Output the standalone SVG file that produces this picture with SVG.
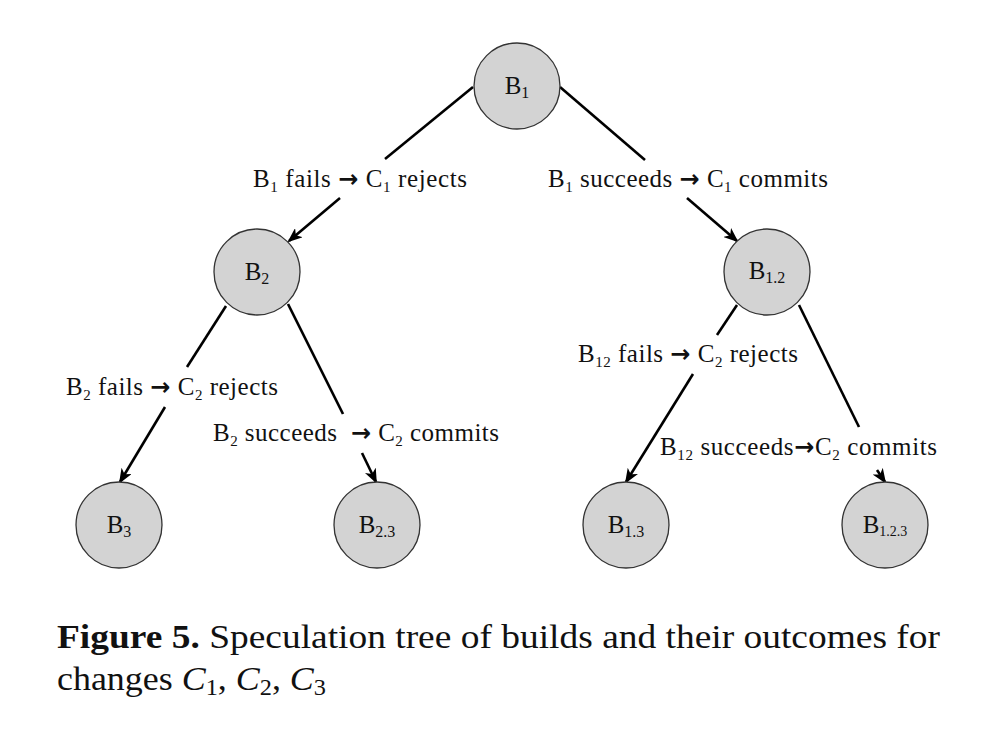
<svg xmlns="http://www.w3.org/2000/svg" width="1002" height="730" viewBox="0 0 1002 730">
<style>
.node{fill:#d3d3d3;stroke:#333;stroke-width:1.3}
.nl{font-family:"Liberation Serif","Times New Roman",serif;font-size:25px;fill:#111;text-anchor:middle}
.el{font-family:"Liberation Serif","Times New Roman",serif;font-size:25px;fill:#111}
.ar{font-family:"DejaVu Sans",sans-serif;font-weight:bold;font-size:24px}
.edge{stroke:#000;stroke-width:2.6;fill:none}
.cap{font-family:"Liberation Serif","Times New Roman",serif;font-size:34px;fill:#111}
</style>
<defs>
<marker id="ah" markerUnits="userSpaceOnUse" viewBox="0 0 15 12" refX="13" refY="6" markerWidth="15" markerHeight="12" orient="auto">
<path d="M0,0 L15,6 L0,12 L4,6 Z" fill="#000"/>
</marker>
</defs>
<rect width="1002" height="730" fill="#fff"/>
<g id="connectors">
<line class="edge" x1="473" y1="87" x2="385" y2="159"/>
<line class="edge" x1="340" y1="198" x2="289" y2="241" marker-end="url(#ah)"/>
<line class="edge" x1="560" y1="87" x2="645" y2="160"/>
<line class="edge" x1="687" y1="198" x2="737" y2="241" marker-end="url(#ah)"/>
<line class="edge" x1="226" y1="306" x2="187" y2="367"/>
<line class="edge" x1="165" y1="407" x2="120" y2="482" marker-end="url(#ah)"/>
<line class="edge" x1="288" y1="304" x2="343" y2="414"/>
<line class="edge" x1="362" y1="453" x2="376" y2="482" marker-end="url(#ah)"/>
<line class="edge" x1="737" y1="305" x2="717" y2="335"/>
<line class="edge" x1="693" y1="374" x2="626" y2="482" marker-end="url(#ah)"/>
<line class="edge" x1="799" y1="305" x2="859" y2="427"/>
<line class="edge" x1="877" y1="470" x2="885" y2="482" marker-end="url(#ah)"/>
<text class="el" x="253" y="187" textLength="214" lengthAdjust="spacing">B<tspan font-size="15" dy="5">1</tspan><tspan dy="-5"> fails </tspan><tspan class="ar">→</tspan> C<tspan font-size="15" dy="5">1</tspan><tspan dy="-5"> rejects</tspan></text>
<text class="el" x="548" y="187" textLength="280" lengthAdjust="spacing">B<tspan font-size="15" dy="5">1</tspan><tspan dy="-5"> succeeds </tspan><tspan class="ar">→</tspan> C<tspan font-size="15" dy="5">1</tspan><tspan dy="-5"> commits</tspan></text>
<text class="el" x="66" y="395" textLength="212" lengthAdjust="spacing">B<tspan font-size="15" dy="5">2</tspan><tspan dy="-5"> fails </tspan><tspan class="ar">→</tspan> C<tspan font-size="15" dy="5">2</tspan><tspan dy="-5"> rejects</tspan></text>
<text class="el" x="213" y="441" textLength="286" lengthAdjust="spacing" xml:space="preserve">B<tspan font-size="15" dy="5">2</tspan><tspan dy="-5"> succeeds  </tspan><tspan class="ar">→</tspan> C<tspan font-size="15" dy="5">2</tspan><tspan dy="-5"> commits</tspan></text>
<text class="el" x="578" y="362" textLength="220" lengthAdjust="spacing">B<tspan font-size="15" dy="5">12</tspan><tspan dy="-5"> fails </tspan><tspan class="ar">→</tspan> C<tspan font-size="15" dy="5">2</tspan><tspan dy="-5"> rejects</tspan></text>
<text class="el" x="660" y="455" textLength="277" lengthAdjust="spacing">B<tspan font-size="15" dy="5">12</tspan><tspan dy="-5"> succeeds</tspan><tspan class="ar">→</tspan>C<tspan font-size="15" dy="5">2</tspan><tspan dy="-5"> commits</tspan></text>
</g>
<g id="B1"><circle class="node" cx="517" cy="86" r="43"/><text class="nl" x="517" y="94">B<tspan font-size="16" dy="4">1</tspan></text></g>
<g id="B2"><circle class="node" cx="257" cy="272" r="43"/><text class="nl" x="257" y="280">B<tspan font-size="16" dy="4">2</tspan></text></g>
<g id="B1.2"><circle class="node" cx="767" cy="272" r="43"/><text class="nl" x="767" y="279">B<tspan font-size="16" dy="4">1.2</tspan></text></g>
<g id="B3"><circle class="node" cx="119" cy="525" r="43"/><text class="nl" x="119" y="533">B<tspan font-size="16" dy="4">3</tspan></text></g>
<g id="B2.3"><circle class="node" cx="377" cy="525" r="43"/><text class="nl" x="377" y="533">B<tspan font-size="16" dy="4">2.3</tspan></text></g>
<g id="B1.3"><circle class="node" cx="626" cy="525" r="43"/><text class="nl" x="626" y="533">B<tspan font-size="16" dy="4">1.3</tspan></text></g>
<g id="B1.2.3"><circle class="node" cx="885" cy="525" r="43"/><text class="nl" x="885" y="533" font-size="21">B<tspan font-size="14" dy="3">1.2.3</tspan></text></g>
<text class="cap" x="57" y="648" textLength="883" lengthAdjust="spacingAndGlyphs"><tspan font-weight="bold">Figure 5.</tspan> Speculation tree of builds and their outcomes for</text>
<text class="cap" x="57" y="690" textLength="269" lengthAdjust="spacingAndGlyphs">changes <tspan font-style="italic">C</tspan><tspan font-size="23" dy="5">1</tspan><tspan dy="-5">, </tspan><tspan font-style="italic">C</tspan><tspan font-size="23" dy="5">2</tspan><tspan dy="-5">, </tspan><tspan font-style="italic">C</tspan><tspan font-size="23" dy="5">3</tspan></text>
</svg>
